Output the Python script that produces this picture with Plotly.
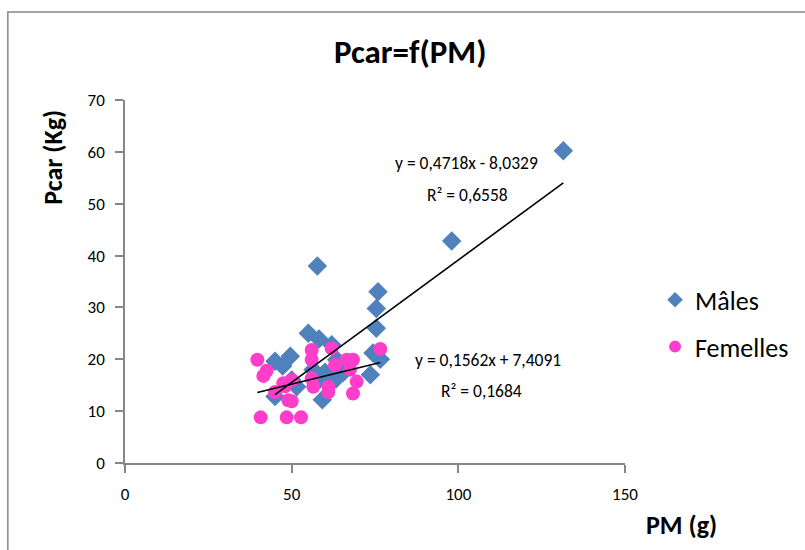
import plotly.graph_objects as go

# ---- data ----
males_pm = [131.5, 98.0, 57.7, 75.9, 75.4, 75.4, 55.0, 58.2, 62.0, 45.0, 49.6, 47.3,
            74.4, 76.6, 73.6, 45.0, 50.0, 59.2, 58.5, 63.3, 56.4, 63.5, 60.0, 65.5, 51.5]
males_pcar = [60.2, 42.8, 38.0, 33.0, 29.8, 26.0, 25.0, 23.9, 22.8, 19.6, 20.6, 18.7,
              21.2, 20.0, 17.0, 12.8, 16.0, 12.2, 16.2, 16.2, 18.0, 19.9, 17.5, 17.5, 14.7]

fem_pm = [39.7, 42.5, 41.5, 45.0, 47.5, 50.0, 49.0, 50.0, 40.7, 48.5, 52.8, 56.0, 56.0,
          62.0, 63.0, 66.5, 68.4, 67.5, 69.5, 68.4, 76.6, 56.0, 56.5, 61.0, 61.0, 48.0]
fem_pcar = [19.9, 17.8, 16.8, 13.7, 15.4, 16.0, 12.1, 11.9, 8.8, 8.8, 8.8, 21.8, 19.9,
            22.1, 18.9, 19.9, 19.9, 18.0, 15.7, 13.4, 22.0, 16.3, 14.7, 14.7, 13.7, 14.8]

# trendline coefficients (as printed on the chart)
males_slope, males_intercept = 0.4718, -8.0329
fem_slope, fem_intercept = 0.1562, 7.4091
males_eq = "y = 0,4718x - 8,0329"
males_r2 = "R² = 0,6558"
fem_eq = "y = 0,1562x + 7,4091"
fem_r2 = "R² = 0,1684"

x_ticks = [0, 50, 100, 150]
y_ticks = [0, 10, 20, 30, 40, 50, 60, 70]

FONT = "Carlito, Lato, sans-serif"
BLUE = "#4F81BD"
PINK = "#FF3DCB"
AXIS = "#868686"

fig = go.Figure()

fig.add_trace(go.Scatter(
    x=males_pm, y=males_pcar, mode="markers", name="Mâles",
    legendgroup="m",
    marker=dict(symbol="diamond", size=15, color=BLUE, line=dict(width=0)),
))
fig.add_trace(go.Scatter(
    x=fem_pm, y=fem_pcar, mode="markers", name="Femelles",
    legendgroup="f",
    marker=dict(symbol="circle", size=14, color=PINK, line=dict(width=0)),
))

# trendlines
mx = [min(males_pm), max(males_pm)]
fx = [min(fem_pm), max(fem_pm)]
fig.add_trace(go.Scatter(
    x=mx, y=[males_slope * v + males_intercept for v in mx], mode="lines",
    line=dict(color="black", width=1.6), showlegend=False, hoverinfo="skip"))
fig.add_trace(go.Scatter(
    x=fx, y=[fem_slope * v + fem_intercept for v in fx], mode="lines",
    line=dict(color="black", width=1.6), showlegend=False, hoverinfo="skip"))

annots = [
    dict(text="<b>Pcar=f(PM)</b>", x=0.569, y=1.132, size=33),
    dict(text="<b>Pcar (Kg)</b>", x=-0.1446, y=0.843, textangle=-90, size=26),
    dict(text="<b>PM (g)</b>", x=1.1137, y=-0.171, size=26),
    dict(text=males_eq, x=0.683, y=0.826, size=17.5),
    dict(text=males_r2, x=0.684, y=0.738, size=17.5),
    dict(text=fem_eq, x=0.725, y=0.284, size=17.5),
    dict(text=fem_r2, x=0.713, y=0.198, size=17.5),
]
for a in annots:
    fig.add_annotation(xref="paper", yref="paper", showarrow=False,
                       xanchor="center", yanchor="middle",
                       font=dict(family=FONT, color="black", size=a["size"]),
                       text=a["text"], x=a["x"], y=a["y"],
                       textangle=a.get("textangle", 0))

# outer chart border
fig.add_shape(type="rect", xref="paper", yref="paper",
              x0=-0.2343, x1=1.5, y0=-0.4, y1=1.2424,
              line=dict(color=AXIS, width=1.5), fillcolor="rgba(0,0,0,0)", layer="below")

fig.update_layout(
    width=805, height=550,
    margin=dict(l=124.5, r=179, t=100, b=87),
    paper_bgcolor="white", plot_bgcolor="white",
    font=dict(family=FONT, color="black"),
    showlegend=True,
    legend=dict(x=1.058, y=0.514, xanchor="left", yanchor="top",
                font=dict(family=FONT, size=26, color="black"),
                traceorder="grouped", tracegroupgap=10,
                bgcolor="rgba(0,0,0,0)", itemsizing="constant"),
    xaxis=dict(range=[0, 150], tickvals=x_ticks, showgrid=False, zeroline=False,
               showline=True, linecolor=AXIS, linewidth=1.5,
               ticks="outside", ticklen=8, tickcolor=AXIS, tickwidth=1.5,
               tickfont=dict(family=FONT, size=17, color="black"),
               ticklabelstandoff=7, fixedrange=True),
    yaxis=dict(range=[0, 70], tickvals=y_ticks, showgrid=False, zeroline=False,
               showline=True, linecolor=AXIS, linewidth=1.5,
               ticks="outside", ticklen=8, tickcolor=AXIS, tickwidth=1.5,
               tickfont=dict(family=FONT, size=17, color="black"),
               ticklabelstandoff=7, fixedrange=True),
)

fig.write_html("out.html", config={"displayModeBar": False},
               post_script="document.body.style.margin='0';document.body.style.overflow='hidden';")
